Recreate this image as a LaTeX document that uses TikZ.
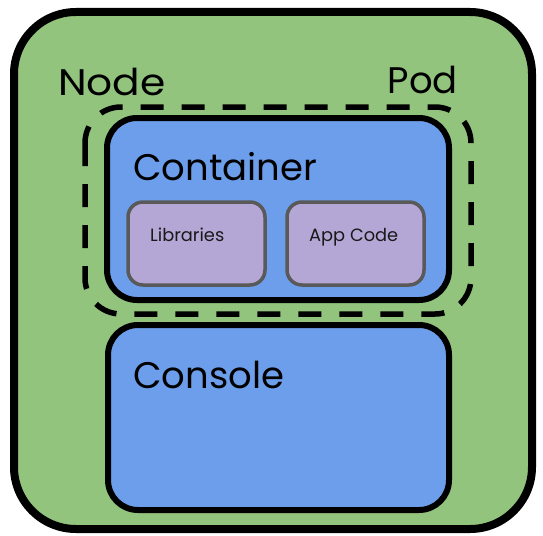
\documentclass[tikz,border=0pt]{standalone}
\usepackage{fontspec}
\setmainfont{Poppins}
\definecolor{nodegreen}{HTML}{93C47D}
\definecolor{boxblue}{HTML}{6D9EEB}
\definecolor{libpurple}{HTML}{B4A7D6}
\definecolor{libedge}{HTML}{595959}
\tikzset{
  hostbox/.style={draw=black, fill=nodegreen, line width=8pt, rounded corners=62pt},
  podbox/.style={draw=black, line width=5.5pt, dash pattern=on 23pt off 18pt, rounded corners=36pt},
  bluebox/.style={draw=black, fill=boxblue, line width=6pt, rounded corners=30pt},
  libbox/.style={draw=libedge, fill=libpurple, line width=3.5pt, rounded corners=15pt},
  bigtxt/.style={inner sep=0pt, font=\fontsize{37}{40}\selectfont},
  smalltxt/.style={inner sep=0pt, font=\fontsize{17.8}{20}\selectfont, text=black!90},
}
\begin{document}
\begin{tikzpicture}[x=1pt, y=-1pt]
  \useasboundingbox (0,0) rectangle (543,535);
  % host machine
  \draw[hostbox] (14,12) rectangle (532,529);
  \node[bigtxt, anchor=base west, xscale=1.1] (nodelbl) at (58,95) {Node};
  \node[bigtxt, anchor=base east] (podlbl) at (458,93) {Pod};
  % pod boundary
  \draw[podbox] (85,107) rectangle (471,314);
  % container
  \draw[bluebox] (107,118) rectangle (449,300);
  \node[bigtxt, anchor=base west] (contlbl) at (133,180) {Container};
  \draw[libbox] (128,202) rectangle (265,285);
  \node[smalltxt, anchor=base west] (liblbl) at (150,241) {Libraries};
  \draw[libbox] (287,202) rectangle (424,285);
  \node[smalltxt, anchor=base west] (applbl) at (309,241) {App Code};
  % console
  \draw[bluebox] (108,325) rectangle (449,510);
  \node[bigtxt, anchor=base west] (conslbl) at (133,388) {Console};
\end{tikzpicture}
\end{document}
